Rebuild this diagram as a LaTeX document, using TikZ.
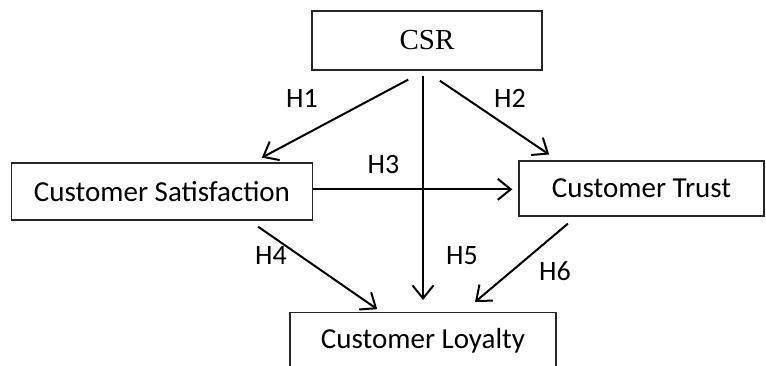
\documentclass[tikz,border=0pt]{standalone}
\usepackage{fontspec}
\setmainfont{Carlito}
\newfontfamily\timesf{Liberation Serif}
\usetikzlibrary{arrows.meta}
\begin{document}
\begin{tikzpicture}[x=1pt,y=-1pt,
  box/.style={draw=black!85, line width=1.3pt, inner sep=0pt, font=\fontsize{29}{34}\selectfont},
  lbl/.style={inner sep=0pt, font=\fontsize{28}{32}\selectfont},
  arr/.style={line width=2pt, -{Straight Barb[length=13pt,width=21pt]}}]
\useasboundingbox (0,0) rectangle (766,365);
\clip (0,0) rectangle (766,365);
\fill[white] (0,0) rectangle (766,365);
\node[box, minimum width=230pt, minimum height=59pt, font=\fontsize{29}{34}\timesf] (csr) at (427,40.5) {CSR};
\node[box, minimum width=301pt, minimum height=57pt] (cs) at (162,191.5) {Customer Satisfaction};
\node[box, minimum width=245pt, minimum height=55pt] (ct) at (641.5,188.5) {Customer Trust};
\node[box, minimum width=266pt, minimum height=90pt, anchor=north] (cl) at (423,312) {\raisebox{38pt}{Customer Loyalty}};
% connectors
\draw[arr, shorten <=19pt, shorten >=10pt] ([xshift=-2pt]csr.south) -- ([xshift=91pt]cs.north);
\draw[arr, shorten <=5pt, shorten >=12pt] ([xshift=-4pt]csr.south) -- (cl.north);
\draw[arr, shorten <=18pt, shorten >=10.5pt] ([xshift=-2pt]csr.south) -- ([xshift=-83.7pt]ct.north);
\draw[arr, shorten >=6pt] ([yshift=2.2pt]cs.east) -- ([yshift=-0.8pt]ct.west);
\draw[arr, shorten <=10.5pt, shorten >=5pt] ([xshift=87.4pt]cs.south) -- ([xshift=-41.7pt]cl.north);
\draw[arr, shorten <=10.8pt, shorten >=15.5pt] ([xshift=-65.3pt]ct.south) -- ([xshift=40.2pt]cl.north);
% labels
\node[lbl] (h1) at (302,98) {H1};
\node[lbl] (h2) at (510,98) {H2};
\node[lbl] (h3) at (383.5,165) {H3};
\node[lbl] (h4) at (271,256) {H4};
\node[lbl] (h5) at (462,256) {H5};
\node[lbl] (h6) at (555,271) {H6};
\end{tikzpicture}
\end{document}
